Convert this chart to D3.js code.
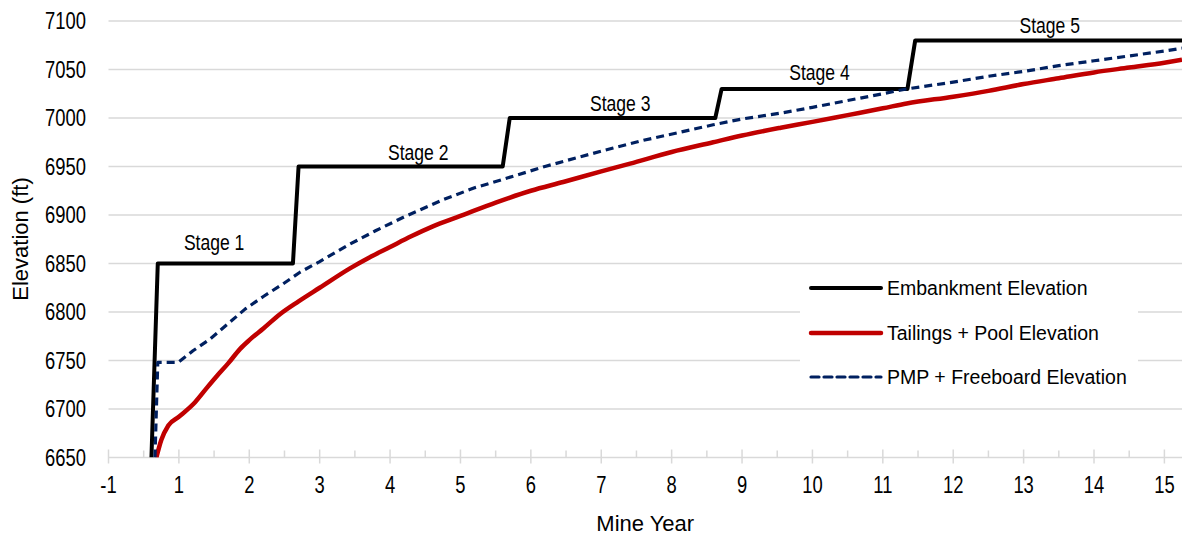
<!DOCTYPE html>
<html>
<head>
<meta charset="utf-8">
<script src="https://cdn.jsdelivr.net/npm/d3@7/dist/d3.min.js"></script>
<style>
  html, body { margin: 0; padding: 0; background: #ffffff; }
  svg { display: block; }
  text { font-family: "Liberation Sans", Arial, sans-serif; fill: #000; }
</style>
</head>
<body>
<svg id="chart" width="1182" height="536"></svg>
<script>
// Embankment crest elevation by stage (mine year, ft)
const embankmentYear = [0.61, 0.70, 2.62, 2.70, 5.60, 5.70, 8.62, 8.71, 11.35, 11.46, 15.25];
const embankmentElev = [6650, 6850, 6850, 6950, 6950, 7000, 7000, 7030, 7030, 7080, 7080];

// Tailings surface + operating pool elevation
const tailingsYear = [0.68, 0.75, 0.85, 1.00, 1.23, 1.40, 1.54, 1.70, 1.87, 2.00, 2.20, 2.44, 2.70, 3.00, 3.43, 3.70, 4.00, 4.30, 4.60, 5.00, 5.51, 6.00, 6.46, 7.00, 7.41, 8.00, 8.59, 9.00, 9.55, 10.00, 10.50, 11.00, 11.34, 12.00, 12.50, 13.00, 13.50, 14.00, 14.50, 15.00, 15.25];
const tailingsElev = [6650, 6668, 6683, 6692, 6707, 6722, 6734, 6747, 6762, 6771, 6783, 6798, 6811, 6825, 6845, 6856, 6867, 6878, 6888, 6899, 6913, 6925, 6934, 6945, 6953, 6965, 6975, 6982, 6990, 6996, 7003, 7010, 7015, 7022, 7028, 7035, 7041, 7047, 7052, 7057, 7060];

// PMP storage + freeboard elevation
const pmpYear = [0.66, 0.70, 0.99, 1.20, 1.44, 1.70, 1.94, 2.20, 2.48, 2.72, 3.00, 3.43, 3.80, 4.20, 4.76, 5.20, 5.75, 6.20, 6.70, 7.17, 7.60, 8.10, 8.59, 9.00, 9.55, 10.00, 10.50, 11.00, 11.34, 12.00, 12.50, 13.00, 13.50, 14.00, 14.50, 15.00, 15.25];
const pmpElev = [6650, 6748, 6748, 6760, 6772, 6788, 6803, 6816, 6829, 6841, 6852, 6870, 6884, 6898, 6916, 6928, 6940, 6950, 6960, 6969, 6977, 6985, 6993, 6999, 7005, 7011, 7018, 7025, 7030, 7037, 7043, 7048, 7054, 7059, 7064, 7069, 7072];

// Stage annotations (anchor in mine year / elevation)
const stageNames = ["Stage 1", "Stage 2", "Stage 3", "Stage 4", "Stage 5"];
const stageYear = [1.50, 4.40, 7.27, 10.10, 13.37];
const stageElev = [6872, 6965, 7015, 7047, 7096];

// Axis ticks
const xTickValues = [0, 1, 2, 3, 4, 5, 6, 7, 8, 9, 10, 11, 12, 13, 14, 15];
const xTickLabels = ["-1", "1", "2", "3", "4", "5", "6", "7", "8", "9", "10", "11", "12", "13", "14", "15"];
const yTickValues = [6650, 6700, 6750, 6800, 6850, 6900, 6950, 7000, 7050, 7100];

const seriesNames = ["Embankment Elevation", "Tailings + Pool Elevation", "PMP + Freeboard Elevation"];

const svg = d3.select("#chart");
const plotLeft = 108.5, plotRight = 1182, plotTop = 21, plotBottom = 457.5;

const x = d3.scaleLinear().domain([0, 15.25]).range([plotLeft, plotRight]);
const y = d3.scaleLinear().domain([6650, 7100]).range([plotBottom, plotTop]);

const gridColor = "#d9d9d9";
// condensed lettering for tick and stage labels
const narrow = (px, py, sx) => `translate(${px},${py}) scale(${sx},1)`;

// horizontal gridlines
svg.append("g").selectAll("line")
  .data(yTickValues)
  .join("line")
  .attr("x1", plotLeft).attr("x2", plotRight)
  .attr("y1", d => y(d)).attr("y2", d => y(d))
  .attr("stroke", gridColor).attr("stroke-width", 1.5);

// x axis ticks (major crossing, minor inside)
const xAxisG = svg.append("g");
xAxisG.selectAll("line.major")
  .data(xTickValues)
  .join("line").attr("class", "major")
  .attr("x1", d => x(d)).attr("x2", d => x(d))
  .attr("y1", plotBottom - 8).attr("y2", plotBottom + 6)
  .attr("stroke", gridColor).attr("stroke-width", 1.5);
xAxisG.selectAll("line.minor")
  .data(xTickValues.filter(d => d + 0.5 <= 15.25).map(d => d + 0.5))
  .join("line").attr("class", "minor")
  .attr("x1", d => x(d)).attr("x2", d => x(d))
  .attr("y1", plotBottom - 7).attr("y2", plotBottom)
  .attr("stroke", gridColor).attr("stroke-width", 1.5);

xAxisG.selectAll("text")
  .data(xTickValues)
  .join("text")
  .attr("transform", d => narrow(x(d), 485, 0.8))
  .attr("text-anchor", "middle")
  .attr("dominant-baseline", "central")
  .attr("font-size", 23)
  .text((d, i) => xTickLabels[i]);

// y tick labels
svg.append("g").selectAll("text")
  .data(yTickValues)
  .join("text")
  .attr("transform", d => narrow(86, y(d), 0.8))
  .attr("text-anchor", "end")
  .attr("dominant-baseline", "central")
  .attr("font-size", 23)
  .text(d => d);

// axis titles
svg.append("text")
  .attr("x", (plotLeft + plotRight) / 2)
  .attr("y", 523)
  .attr("text-anchor", "middle")
  .attr("dominant-baseline", "central")
  .attr("font-size", 22)
  .text("Mine Year");

svg.append("text")
  .attr("transform", "translate(20,239) rotate(-90)")
  .attr("text-anchor", "middle")
  .attr("dominant-baseline", "central")
  .attr("font-size", 22)
  .text("Elevation (ft)");

// clip lines to plot area
svg.append("defs").append("clipPath").attr("id", "plotClip")
  .append("rect").attr("x", plotLeft).attr("y", 0).attr("width", plotRight - plotLeft).attr("height", plotBottom);

const plot = svg.append("g").attr("clip-path", "url(#plotClip)");
const stepLine = d3.line().x(d => x(d[0])).y(d => y(d[1]));
const smoothLine = d3.line().x(d => x(d[0])).y(d => y(d[1])).curve(d3.curveMonotoneX);

plot.append("path")
  .datum(embankmentYear.map((v, i) => [v, embankmentElev[i]]))
  .attr("d", stepLine)
  .attr("fill", "none").attr("stroke", "#000000").attr("stroke-width", 4)
  .attr("stroke-linejoin", "round");

plot.append("path")
  .datum(tailingsYear.map((v, i) => [v, tailingsElev[i]]))
  .attr("d", smoothLine)
  .attr("fill", "none").attr("stroke", "#c00000").attr("stroke-width", 4.5)
  .attr("stroke-linejoin", "round");

plot.append("path")
  .datum(pmpYear.map((v, i) => [v, pmpElev[i]]))
  .attr("d", stepLine)
  .attr("fill", "none").attr("stroke", "#002060").attr("stroke-width", 3.2)
  .attr("stroke-dasharray", "8,5")
  .attr("stroke-linejoin", "round");

// stage labels
svg.append("g").selectAll("text")
  .data(stageNames)
  .join("text")
  .attr("transform", (d, i) => narrow(x(stageYear[i]), y(stageElev[i]), 0.78))
  .attr("text-anchor", "middle")
  .attr("dominant-baseline", "central")
  .attr("font-size", 22.5)
  .text(d => d);

// legend
const legend = svg.append("g");
legend.append("rect")
  .attr("x", 800).attr("y", 268).attr("width", 338).attr("height", 130)
  .attr("fill", "#ffffff");
const legendStyles = [
  { color: "#000000", width: 4, dash: null },
  { color: "#c00000", width: 4.5, dash: null },
  { color: "#002060", width: 3.2, dash: "8,5" }
];
const legendRowY = [288, 333, 377];
seriesNames.forEach((name, i) => {
  const s = legendStyles[i];
  legend.append("line")
    .attr("x1", 811).attr("x2", 881)
    .attr("y1", legendRowY[i]).attr("y2", legendRowY[i])
    .attr("stroke", s.color).attr("stroke-width", s.width)
    .attr("stroke-linecap", "round")
    .attr("stroke-dasharray", s.dash);
  legend.append("text")
    .attr("x", 887).attr("y", legendRowY[i])
    .attr("dominant-baseline", "central")
    .attr("font-size", 19.5)
    .text(name);
});
</script>
</body>
</html>
